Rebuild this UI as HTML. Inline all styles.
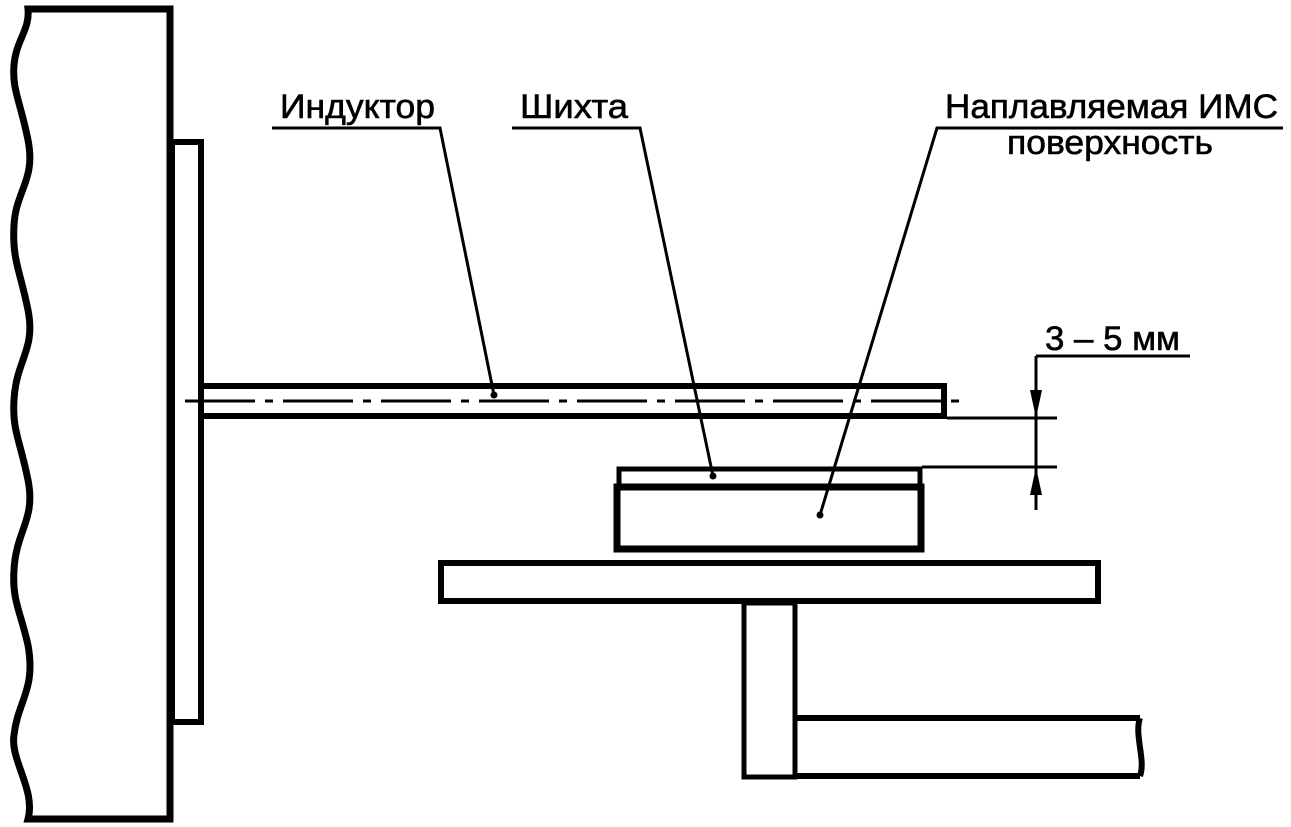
<!DOCTYPE html>
<html><head><meta charset="utf-8"><style>html,body{margin:0;padding:0;background:#fff}svg{display:block}</style></head>
<body>
<svg width="1291" height="827" viewBox="0 0 1291 827" xmlns="http://www.w3.org/2000/svg">
<g fill="none" stroke="#000">
<path d="M28,9 L170,9 L170,819 L28,819 C36,790 10,760 14,735 C18,700 36,690 28,645 C20,610 12,600 14,570 C16,530 36,520 28,480 C20,440 12,430 14,400 C16,360 36,350 28,310 C20,270 12,260 14,225 C16,190 36,180 28,140 C20,100 12,90 14,65 C16,40 30,30 28,9 Z" stroke-width="7"/>
<rect x="172" y="142" width="29" height="580" stroke-width="6"/>
<path d="M203,386 L944,386 L944,416 L203,416" stroke-width="6"/>
<path d="M185,401 L960,401" stroke-width="3" stroke-dasharray="70,10,8,10"/>
<rect x="619" y="469" width="301" height="17" stroke-width="5"/>
<rect x="617" y="487" width="304" height="62" stroke-width="7"/>
<rect x="441" y="563" width="657" height="38" stroke-width="6"/>
<rect x="744" y="603" width="51" height="174" stroke-width="5"/>
<path d="M797,718 L1140,718 M797,776 L1140,776 M1140,718 C1134,735 1146,760 1140,776" stroke-width="6"/>
<path d="M947,418 L1057,418 M922,467 L1057,467 M1036,356 L1036,510 M1036,356 L1190,356" stroke-width="3"/>
<path d="M272,128 L440,128 L494,395 M512,128 L640,128 L713,476 M1283,128 L937,128 L820,515" stroke-width="3"/>
</g>
<g fill="#000">
<path d="M1036,418 L1030,390 L1042,390 Z"/>
<path d="M1036,467 L1030,495 L1042,495 Z"/>
<circle cx="494" cy="395" r="3.5"/><circle cx="713" cy="476" r="3.5"/><circle cx="820" cy="515" r="3.5"/>
</g>
<g font-family="Liberation Sans, sans-serif" font-size="34" fill="#000" stroke="#000" stroke-width="0.6">
<text x="280" y="118" textLength="155" lengthAdjust="spacingAndGlyphs">Индуктор</text>
<text x="520" y="118" textLength="108" lengthAdjust="spacingAndGlyphs">Шихта</text>
<text x="945" y="118" textLength="333" lengthAdjust="spacingAndGlyphs">Наплавляемая ИМС</text>
<text x="1007" y="154" textLength="206" lengthAdjust="spacingAndGlyphs">поверхность</text>
<text x="1045" y="350" textLength="135" lengthAdjust="spacingAndGlyphs">3 – 5 мм</text>
</g>
</svg>
</body></html>
